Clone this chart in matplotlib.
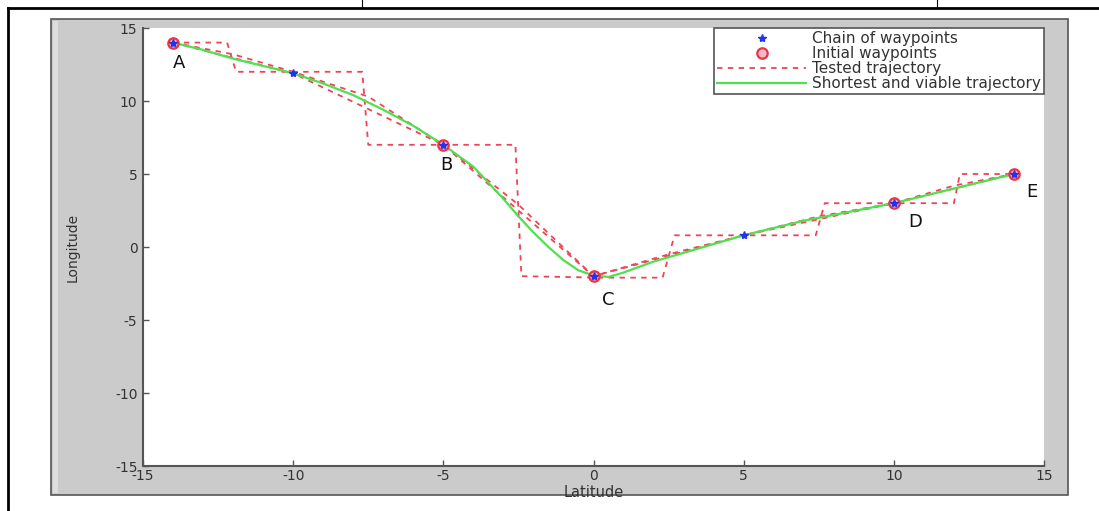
import numpy as np
import matplotlib.pyplot as plt
from matplotlib.patches import Rectangle
from matplotlib.lines import Line2D

plt.rcParams['font.family'] = ['DejaVu Sans']
plt.rcParams['axes.unicode_minus'] = False

# waypoints
chain_x = [-14, -10, -5, 0, 5, 10, 14]
chain_y = [14, 11.9, 7, -2, 0.8, 3, 5]
init_x = [-14, -5, 0, 10, 14]
init_y = [14, 7, -2, 3, 5]
point_names = ['A', 'B', 'C', 'D', 'E']
name_x = [-13.8, -4.9, 0.5, 10.7, 14.6]
name_y = [12.6, 5.6, -3.6, 1.7, 3.8]

# tested trajectories
stair_x = [-14, -12.2, -11.9, -7.7, -7.5, -2.6, -2.4, 0.3, 2.3, 2.7, 7.4, 7.7, 12.0, 12.2, 14]
stair_y = [14, 14, 12, 12, 7, 7, -2, -2.1, -2.1, 0.8, 0.8, 3, 3, 5, 5]
alt_x = [-14, -12, -10, -7.5, -5, -2.5, 0, 2.5, 5, 7.5, 10, 12, 14]
alt_y = [14, 13.2, 12.0, 10.3, 7, 2.9, -2, -0.5, 0.8, 2.1, 3, 4.2, 5]

# shortest and viable trajectory
best_x = [-14, -13, -12, -11, -10, -9, -8, -7, -6, -5, -4, -3, -2.5, -2, -1.5, -1, -0.5,
          0, 0.5, 1, 2, 3, 4, 5, 6, 7, 8, 9, 10, 11, 12, 13, 14]
best_y = [14, 13.5, 12.9, 12.4, 11.9, 11.2, 10.4, 9.4, 8.3, 7.0, 5.5, 3.3, 2.1, 1.0, 0.0,
          -0.9, -1.6, -1.95, -2.05, -1.75, -1.0, -0.4, 0.2, 0.8, 1.3, 1.8, 2.2, 2.6, 3.0,
          3.5, 4.0, 4.5, 5.0]

W, H = 1099, 511
fig = plt.figure(figsize=(W / 100, H / 100), dpi=100)
fig.patch.set_facecolor('white')

# grey matlab figure panel
fig.patches.append(Rectangle((51 / W, 1 - 495 / H), (1068 - 51) / W, (495 - 19) / H,
                             transform=fig.transFigure, facecolor='#cbcbcb',
                             edgecolor='#555555', lw=1.2, zorder=-5))
fig.patches.append(Rectangle((53 / W, 1 - 493 / H), 5 / W, (493 - 21) / H,
                             transform=fig.transFigure, facecolor='#dedede',
                             edgecolor='none', zorder=-4))
# page frame
fig.lines.append(Line2D([8 / W, 1], [1 - 8 / H, 1 - 8 / H], transform=fig.transFigure,
                        color='black', lw=2))
fig.lines.append(Line2D([8 / W, 8 / W], [0, 1 - 8 / H], transform=fig.transFigure,
                        color='black', lw=2))
for xp in [362, 937]:
    fig.lines.append(Line2D([xp / W, xp / W], [1 - 8 / H, 1], transform=fig.transFigure,
                            color='black', lw=0.8))

ax = fig.add_axes([143 / W, 1 - 466 / H, 901 / W, 438 / H])
ax.set_facecolor('white')

ax.plot(chain_x, chain_y, '*', color='#2233ee', ms=6, label='Chain of waypoints', zorder=5)
ax.plot(init_x, init_y, 'o', color='#ee3344', mfc='#f4b8c8', mew=1.6, ms=7.5,
        label='Initial waypoints', zorder=4)
ax.plot(stair_x, stair_y, '--', color='#ee4455', lw=1.3, dashes=(3, 3),
        label='Tested trajectory', zorder=2)
ax.plot(chain_x, chain_y, '--', color='#ee4455', lw=1.3, dashes=(3, 3), zorder=2)
ax.plot(alt_x, alt_y, '--', color='#ee4455', lw=1.3, dashes=(3, 3), zorder=2)
ax.plot(best_x, best_y, '-', color='#4fe04f', lw=1.6,
        label='Shortest and viable trajectory', zorder=3)

for nm, tx, ty in zip(point_names, name_x, name_y):
    ax.text(tx, ty, nm, fontsize=13, color='#111111', ha='center', va='center')

ax.set_xlim(-15, 15)
ax.set_ylim(-15, 15)
ax.set_xticks(np.arange(-15, 16, 5))
ax.set_yticks(np.arange(-15, 16, 5))
for s in ['top', 'right']:
    ax.spines[s].set_visible(False)
for s in ['left', 'bottom']:
    ax.spines[s].set_color('#555555')
    ax.spines[s].set_linewidth(1.5)
ax.tick_params(direction='in', length=4, width=1, color='#555555',
               labelsize=10, labelcolor='#333333')
ax.tick_params(axis='x', pad=2.5)
ax.tick_params(axis='y', pad=4)

ax.set_xlabel('Latitude', fontsize=10.5, color='#333333')
ax.set_ylabel('Longitude', fontsize=10, color='#333333')
ax.xaxis.set_label_coords(0.5, -0.043)
ax.yaxis.set_label_coords(-0.07, 0.5)

leg = ax.legend(loc='upper right', borderaxespad=0, fontsize=11, fancybox=False,
                edgecolor='#555555', framealpha=1, handlelength=5.8,
                handletextpad=0.4, labelspacing=0.0, borderpad=0.2)
leg.get_frame().set_linewidth(1.2)
for t in leg.get_texts():
    t.set_color('#333333')

fig.savefig('out.png', dpi=100)
